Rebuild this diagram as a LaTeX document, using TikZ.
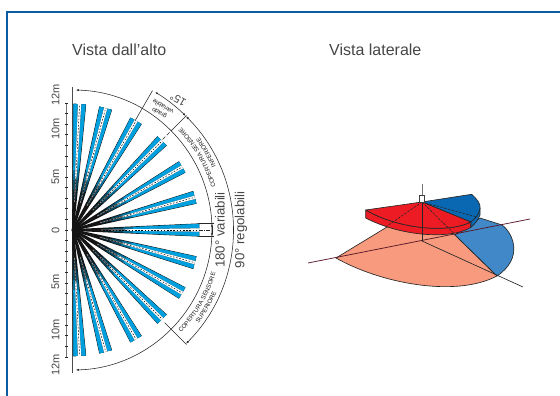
\documentclass[tikz,border=0pt]{standalone}
\usepackage{fontspec}
\setmainfont{Liberation Sans}
\usetikzlibrary{arrows.meta,decorations.text}
\definecolor{framec}{RGB}{12,92,165}
\definecolor{rayblue}{RGB}{0,160,222}
\definecolor{txt}{RGB}{70,70,70}
\definecolor{lred}{RGB}{247,154,126}
\definecolor{lblue}{RGB}{64,136,200}
\definecolor{dred}{RGB}{237,28,36}
\definecolor{dblue}{RGB}{10,104,178}
\definecolor{maroon}{RGB}{90,25,40}
\newcommand{\fs}[1]{\fontsize{#1}{#1}\selectfont}
\newcommand{\wedgeband}[2]{% r start, colour
  \fill[#2] (#1,{#1/126*1.9}) -- (126,1.9) -- (126,6.1) -- (#1,{#1/126*6.1}) -- cycle;
  \fill[#2] (#1,{-#1/126*1.9}) -- (126,-1.9) -- (126,-6.1) -- (#1,{-#1/126*6.1}) -- cycle;}
\tikzset{
  x=1pt,y=1pt,
  title/.style={font=\fs{16},text=txt,inner sep=0pt,anchor=base west},
  scalelab/.style={font=\fs{11},text=txt,inner sep=0pt,rotate=90},
  anglelab/.style={font=\fs{13.2},text=txt,inner sep=0pt,rotate=90},
  dim/.style={draw=black!85,line width=0.55pt},
  dimarrow/.style={dim,{Latex[length=3.2pt,width=2pt]}-{Latex[length=3.2pt,width=2pt]}},
  edge3d/.style={draw=black!85,line width=0.65pt,line join=round},
  hid3d/.style={draw=black!85,line width=0.6pt,dash pattern=on 2.4pt off 1.4pt},
  curved/.style={decorate,decoration={text along path,text align=center,
     text={|\fs{6.1}\color{black!90}|#1}}}
}
\begin{document}
\begin{tikzpicture}
\useasboundingbox (0,0) rectangle (560,396);
% frame
\draw[framec,line width=1.1pt] (7,0) -- (7,384) -- (560,384);
% titles
\node[title] (t1) at (72,340.5) {Vista dall’alto};
\node[title] (t2) at (329,340.5) {Vista laterale};
% ---------- left view ----------
\begin{scope}[shift={(72,166)}]
  % scale
  \draw[black!55,line width=0.5pt] (-5.3,127) -- (-5.3,-127);
  \foreach \k in {-12,...,12}
    \draw[black!85,line width=0.7pt] (-6.6,{\k*10.58}) -- (-4.2,{\k*10.58});
  \draw[black!70,line width=0.5pt] (0,143) -- (0,-143);
  \node[scalelab] (s1) at (-16.5,135) {12m};
  \node[scalelab] (s2) at (-16.5,101) {10m};
  \node[scalelab] (s3) at (-16.5,53) {5m};
  \node[scalelab] (s4) at (-16.5,0) {0};
  \node[scalelab] (s5) at (-16.5,-52) {5m};
  \node[scalelab] (s6) at (-16.5,-100) {10m};
  \node[scalelab] (s7) at (-16.5,-135) {12m};
  % rays
  \fill[black!90] (3.5,0) circle (4.2);
  \foreach \a in {87,75,60,45,30,15,0,-15,-30,-45,-60,-75,-87}{
    \begin{scope}[shift={(1,0)},rotate=\a]
      \fill[black!92] (0,0.9) -- (126,6.6) -- (126,-6.6) -- (0,-0.9) -- cycle;
      \wedgeband{30}{rayblue!20!black}
      \wedgeband{40}{rayblue!45!black}
      \wedgeband{50}{rayblue!70!black}
      \wedgeband{60}{rayblue}
      \fill[black!45] (28,0.4) -- (126,1.6) -- (126,-1.6) -- (28,-0.4) -- cycle;
      \fill[white] (52,0.7) -- (126,1.6) -- (126,-1.6) -- (52,-0.7) -- cycle;
      \draw[black,line width=0.5pt,dash pattern=on 1.6pt off 1.6pt] (30,0) -- (126,0);
    \end{scope}}
  % dimension arcs
  \draw[dimarrow] (88.5:140) arc[start angle=88.5,end angle=-88.5,radius=140];
  \draw[dimarrow] (59:161) arc[start angle=59,end angle=45,radius=161];
  \draw[dimarrow] (45:161) arc[start angle=45,end angle=-45,radius=161];
  \draw[dim] (60:126) -- (60:161);
  \draw[dim] (45:143) -- (45:162);
  \draw[dim,dash pattern=on 4pt off 2pt] (45:128) -- (45:143);
  \draw[dim] (-45:131) -- (-45:162);
  % 0 degree dimension
  \draw[dim] (127,6.6) -- (142,6.6);
  \draw[dim] (127,-6.6) -- (142,-6.6);
  \draw[dim,dash pattern=on 4pt off 1.2pt on 1pt off 1.2pt] (127,0) -- (141,0);
  \draw[dimarrow] (140,6.6) -- (140,-6.6);
  % labels
  \node[anglelab] (a1) at (148,0) {180° variabili};
  \node[anglelab] (a2) at (169,0) {90° regolabili};
  \node[font=\fs{11},text=txt,inner sep=0pt,rotate=150] (a3) at (106,130) {15°};
  \node[font=\fs{6.2},text=black!90,inner sep=0pt,rotate=150,align=center,text width=30pt] (a4) at (89,120) {grado\\[1.4pt]variabile};
  % curved labels
  \path[curved=COPERTURA SENSORE] (14:150) arc[start angle=14,end angle=46,radius=150];
  \path[curved=INFERIORE] (14:157.5) arc[start angle=14,end angle=46,radius=157.5];
  \path[curved=COPERTURA SENSORE] (-46:150) arc[start angle=-46,end angle=-14,radius=150];
  \path[curved=SUPERIORE] (-46:157.5) arc[start angle=-46,end angle=-14,radius=157.5];
\end{scope}
% ---------- side view ----------
\begin{scope}[shift={(0,396)},yscale=-1]
  % ground sectors
  \path[fill=lred,edge3d] (336,258) -- (387,227) -- (422,214) -- (455,235) -- (497,276)
     .. controls (455,298) and (380,283) .. (336,258) -- cycle;
  \path[fill=lblue,edge3d] (455,235) -- (480,218) -- (502,225)
     .. controls (513,233) and (524,258) .. (497,276) -- cycle;
  \draw[maroon,line width=0.75pt] (308,263) -- (530,219);
  \draw[black!85,line width=0.65pt] (422,241) -- (523,287);
  % blue upper sector
  \path[fill=dblue,edge3d] (470.7,222) -- (480,208.3) -- (480,215)
     .. controls (478,220) and (475,224) .. (470.7,227.5) -- cycle;
  \path[fill=dblue,edge3d] (422,202) -- (471.7,194.3)
     .. controls (477,199) and (481,204) .. (480,208.3)
     .. controls (479,214) and (476,218) .. (470.7,222) -- cycle;
  % red upper sector
  \path[fill=dred,edge3d] (365.7,210) -- (365.7,218)
     .. controls (400,236) and (450,240) .. (470.7,227.5) -- (470.7,222)
     .. controls (450,233) and (400,230) .. (365.7,210) -- cycle;
  \path[fill=dred,edge3d] (365.7,210) -- (422,202) -- (470.7,222)
     .. controls (450,233) and (400,230) .. (365.7,210) -- cycle;
  % inner lines
  \draw[hid3d] (422,202) -- (387,226);
  \draw[hid3d] (422,202) -- (455,234.5);
  \draw[hid3d] (422,202) -- (477,217);
  \draw[black!85,line width=0.7pt] (422,202) -- (422,241);
  % sensor
  \draw[black!55,line width=0.8pt] (422,184) -- (422,195);
  \draw[black!75,line width=0.5pt,fill=white] (419.5,195) rectangle (424.7,202);
\end{scope}
\end{tikzpicture}
\end{document}
